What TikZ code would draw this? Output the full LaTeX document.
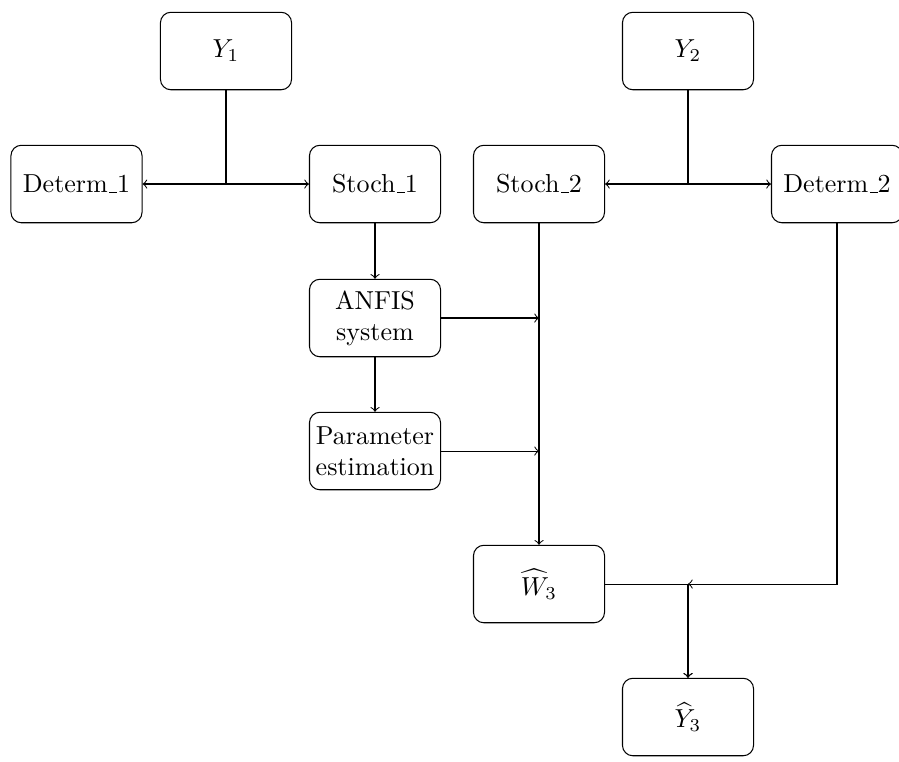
\documentclass[tikz,border=0pt]{standalone}
\usepackage{amsmath}
\newcommand\myus{\leavevmode\kern.06em\vbox{\hrule width.3em}}
\begin{document}
\begin{tikzpicture}[x=0.3846pt,y=-0.3846pt,
  box/.style={draw,rounded corners=4pt,minimum width=50.4pt,minimum height=29.8pt,align=center,inner sep=2pt},
  conn/.style={->}]
\useasboundingbox (0,0) rectangle (899,761);
\clip (0,0) rectangle (899,761);
\node[box] (y1) at (226,51) {$Y_1$};
\node[box] (d1) at (76.5,184) {Determ\myus1};
\node[box] (s1) at (375,184) {Stoch\myus1};
\node[box] (s2) at (539,184) {Stoch\myus2};
\node[box] (y2) at (688,51) {$Y_2$};
\node[box] (d2) at (837,184) {Determ\myus2};
\node[box] (an) at (375,318) {ANFIS\\system};
\node[box] (pe) at (375,451) {Parameter\\estimation};
\node[box] (w3) at (539,584) {$\widehat{W}_3$};
\node[box] (y3) at (688,717) {$\widehat{Y}_3$};
\coordinate (j) at (w3.east -| y3.north);
\draw[conn] (y1.south) |- (d1.east);
\draw[conn] (y1.south) |- (s1.west);
\draw[conn] (y2.south) |- (s2.east);
\draw[conn] (y2.south) |- (d2.west);
\draw[conn] (s1) -- (an);
\draw[conn] (an) -- (pe);
\draw[conn] (an.east) -- (an.east -| s2.south);
\draw[conn] (pe.east) -- (pe.east -| s2.south);
\draw[conn] (s2) -- (w3);
\draw[conn] (d2.south) |- (j);
\draw[conn] (w3.east) -| (y3.north);
\draw[conn] (j) -- (y3.north);
\end{tikzpicture}
\end{document}
